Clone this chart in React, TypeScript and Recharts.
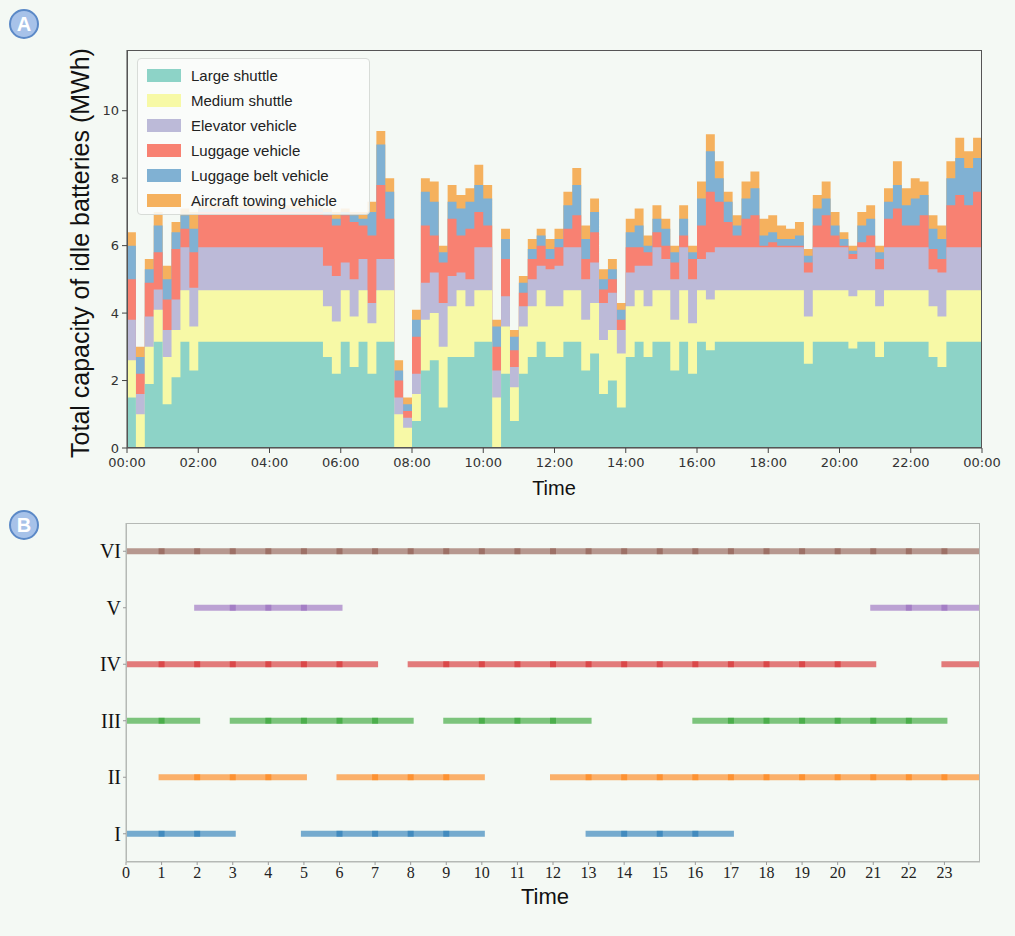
import React from 'react'
import { AreaChart, Area, LineChart, Line, XAxis, YAxis } from 'recharts'

// cumulative top edge of each band, 15 min steps (00:00 .. 24:00)
const LARGE_SHUTTLE = [
  1.5, 0.0, 1.9, 3.15, 1.3, 2.1, 3.15, 2.3,
  3.15, 3.15, 3.15, 3.15, 3.15, 3.15, 3.15, 3.15, 3.15, 3.15, 3.15, 3.15,
  3.15, 3.15, 2.7, 2.2, 3.15, 2.4, 3.15, 2.2, 3.15, 3.15, 0.0, 0.0,
  0.8, 2.3, 2.6, 1.2, 2.7, 2.7, 2.7, 3.15, 3.15, 0.0, 2.2, 0.8,
  2.2, 2.7, 3.15, 2.7, 2.7, 3.15, 3.15, 2.3, 2.8, 1.6, 2.0, 1.2,
  2.7, 3.15, 2.7, 3.15, 3.15, 2.3, 3.15, 2.2, 3.15, 2.9, 3.15, 3.15,
  3.15, 3.15, 3.15, 3.15, 3.15, 3.15, 3.15, 3.15, 2.5, 3.15, 3.15, 3.15,
  3.15, 2.95, 3.15, 3.15, 2.7, 3.15, 3.15, 3.15, 3.15, 3.15, 2.7, 2.4,
  3.15, 3.15, 3.15, 3.15, 3.15,
]
const MEDIUM_SHUTTLE = [
  2.6, 1.0, 3.0, 4.1, 2.7, 3.5, 4.68, 3.6,
  4.68, 4.68, 4.68, 4.68, 4.68, 4.68, 4.68, 4.68, 4.68, 4.68, 4.68, 4.68,
  4.68, 4.68, 4.2, 3.75, 4.68, 3.9, 4.68, 3.7, 4.68, 4.68, 1.0, 0.6,
  1.6, 3.8, 4.0, 3.0, 4.2, 4.68, 4.2, 4.68, 4.68, 1.5, 3.6, 1.8,
  3.6, 4.2, 4.68, 4.2, 4.2, 4.68, 4.68, 3.8, 4.3, 3.2, 3.5, 2.8,
  4.2, 4.68, 4.2, 4.68, 4.68, 3.8, 4.68, 3.7, 4.68, 4.4, 4.68, 4.68,
  4.68, 4.68, 4.68, 4.68, 4.68, 4.68, 4.68, 4.68, 3.9, 4.68, 4.68, 4.68,
  4.68, 4.5, 4.68, 4.68, 4.2, 4.68, 4.68, 4.68, 4.68, 4.68, 4.2, 3.9,
  4.68, 4.68, 4.68, 4.68, 4.68,
]
const ELEVATOR = [
  3.8, 1.6, 3.9, 4.7, 3.5, 4.4, 5.95, 4.75,
  5.95, 5.95, 5.95, 5.95, 5.95, 5.95, 5.95, 5.95, 5.95, 5.95, 5.95, 5.95,
  5.95, 5.95, 5.4, 5.1, 5.5, 5.0, 5.6, 4.3, 5.6, 5.6, 1.5, 0.9,
  2.2, 4.9, 5.2, 4.3, 5.1, 5.2, 5.0, 5.95, 5.95, 2.3, 4.5, 2.4,
  4.2, 5.0, 5.4, 5.3, 5.4, 5.95, 5.95, 5.0, 5.5, 4.3, 4.6, 3.5,
  5.2, 5.4, 5.4, 5.95, 5.6, 5.0, 5.95, 5.0, 5.6, 5.8, 5.95, 5.95,
  5.95, 5.95, 5.95, 5.95, 5.95, 5.95, 5.95, 5.95, 5.2, 5.95, 5.95, 5.95,
  5.95, 5.6, 5.95, 5.95, 5.3, 5.95, 5.95, 5.95, 5.95, 5.95, 5.3, 5.2,
  5.95, 5.95, 5.95, 5.95, 5.95,
]
const LUGGAGE = [
  5.0, 2.2, 4.9, 5.8, 4.4, 5.9, 6.5, 5.8,
  7.0, 7.0, 7.0, 7.0, 7.0, 7.0, 7.0, 7.0, 7.0, 7.0, 7.0, 7.0,
  7.0, 7.0, 6.9, 6.6, 6.9, 6.7, 6.6, 6.3, 7.8, 6.8, 2.0, 1.1,
  3.3, 6.6, 6.3, 5.5, 6.8, 6.3, 6.5, 7.0, 6.6, 3.0, 5.6, 2.9,
  4.6, 5.6, 6.0, 5.6, 5.95, 6.5, 6.9, 5.6, 6.4, 4.7, 5.0, 3.8,
  5.95, 5.95, 5.8, 6.4, 6.0, 5.5, 6.3, 5.6, 6.6, 7.6, 7.3, 6.7,
  6.3, 6.8, 6.9, 6.0, 6.1, 6.0, 6.0, 6.0, 5.5, 6.6, 6.9, 6.3,
  6.0, 5.75, 6.1, 6.3, 5.6, 6.8, 7.1, 6.6, 6.6, 6.9, 5.9, 5.6,
  7.2, 7.5, 7.2, 7.6, 7.6,
]
const LUGGAGE_BELT = [
  6.0, 2.7, 5.3, 6.6, 5.0, 6.4, 6.9, 6.5,
  7.1, 7.1, 7.1, 7.1, 7.1, 7.1, 7.1, 7.1, 7.1, 7.1, 7.1, 7.1,
  7.1, 7.1, 7.0, 6.8, 7.0, 6.9, 6.8, 7.0, 9.0, 7.6, 2.3, 1.3,
  3.8, 7.6, 7.3, 5.8, 7.3, 7.1, 7.3, 7.8, 7.4, 3.6, 6.2, 3.3,
  4.9, 5.9, 6.3, 5.9, 6.2, 7.2, 7.8, 6.2, 7.0, 5.0, 5.3, 4.1,
  6.4, 6.6, 6.0, 6.8, 6.5, 5.8, 6.8, 5.8, 7.4, 8.8, 8.0, 7.3,
  6.6, 7.4, 7.7, 6.3, 6.4, 6.2, 6.2, 6.3, 5.7, 7.1, 7.4, 6.6,
  6.2, 5.85, 6.6, 6.8, 5.8, 7.3, 7.8, 7.2, 7.4, 7.5, 6.5, 6.2,
  8.0, 8.6, 8.3, 8.6, 8.6,
]
const TOWING = [
  6.4, 3.0, 5.6, 7.0, 5.4, 6.7, 7.1, 7.0,
  7.2, 7.2, 7.2, 7.2, 7.2, 7.2, 7.2, 7.2, 7.2, 7.2, 7.2, 7.2,
  7.2, 7.2, 7.1, 7.0, 7.1, 7.0, 7.0, 7.3, 9.4, 8.0, 2.6, 1.5,
  4.1, 8.0, 7.9, 6.0, 7.8, 7.5, 7.7, 8.4, 7.8, 3.8, 6.5, 3.5,
  5.1, 6.2, 6.5, 6.2, 6.5, 7.6, 8.3, 6.6, 7.4, 5.3, 5.6, 4.3,
  6.8, 7.1, 6.3, 7.2, 6.8, 6.0, 7.2, 6.0, 7.9, 9.3, 8.5, 7.6,
  6.9, 7.9, 8.2, 6.8, 6.9, 6.6, 6.5, 6.7, 5.9, 7.5, 7.9, 7.0,
  6.4, 6.0, 7.0, 7.2, 6.0, 7.7, 8.5, 7.7, 8.0, 7.9, 6.9, 6.6,
  8.5, 9.2, 8.8, 9.2, 9.2,
]

const SERIES = [
  { key: 'ls', name: 'Large shuttle', color: '#8dd3c7', values: LARGE_SHUTTLE },
  { key: 'ms', name: 'Medium shuttle', color: '#f7f9a6', values: MEDIUM_SHUTTLE },
  { key: 'el', name: 'Elevator vehicle', color: '#bcbad8', values: ELEVATOR },
  { key: 'lu', name: 'Luggage vehicle', color: '#f88172', values: LUGGAGE },
  { key: 'be', name: 'Luggage belt vehicle', color: '#80b1d3', values: LUGGAGE_BELT },
  { key: 'tw', name: 'Aircraft towing vehicle', color: '#f5b15e', values: TOWING },
]

const capacityData = LARGE_SHUTTLE.map((_, i) => {
  const row: Record<string, number> = { t: i / 4 }
  SERIES.forEach((s) => (row[s.key] = s.values[i]))
  return row
})

// hours (start of each 1h slot) in which each station is working
const STATIONS = [
  { level: 1, label: 'I', color: '#1f77b4', hours: [0, 1, 2, 5, 6, 7, 8, 9, 13, 14, 15, 16] },
  { level: 2, label: 'II', color: '#ff7f0e', hours: [1, 2, 3, 4, 6, 7, 8, 9, 12, 13, 14, 15, 16, 17, 18, 19, 20, 21, 22, 23] },
  { level: 3, label: 'III', color: '#2ca02c', hours: [0, 1, 3, 4, 5, 6, 7, 9, 10, 11, 12, 16, 17, 18, 19, 20, 21, 22] },
  { level: 4, label: 'IV', color: '#d62728', hours: [0, 1, 2, 3, 4, 5, 6, 8, 9, 10, 11, 12, 13, 14, 15, 16, 17, 18, 19, 20, 23] },
  { level: 5, label: 'V', color: '#9467bd', hours: [2, 3, 4, 5, 21, 22, 23] },
  { level: 6, label: 'VI', color: '#8c564b', hours: [0, 1, 2, 3, 4, 5, 6, 7, 8, 9, 10, 11, 12, 13, 14, 15, 16, 17, 18, 19, 20, 21, 22, 23] },
]
const HOUR_TICKS = [0, 1, 2, 3, 4, 5, 6, 7, 8, 9, 10, 11, 12, 13, 14, 15, 16, 17, 18, 19, 20, 21, 22, 23]
const TIME_TICKS = [0, 2, 4, 6, 8, 10, 12, 14, 16, 18, 20, 22, 24]
const CAP_TICKS = [0, 2, 4, 6, 8, 10]

function stationPoints(hours: number[], level: number) {
  const pts: { t: number; v: number | null; joint?: boolean }[] = []
  let i = 0
  while (i < hours.length) {
    let j = i
    while (j + 1 < hours.length && hours[j + 1] === hours[j] + 1) j++
    pts.push({ t: hours[i], v: level })
    for (let h = hours[i] + 1; h <= hours[j] + 1; h++) {
      pts.push({ t: h, v: level, joint: h <= hours[j] })
    }
    if (j + 1 < hours.length) pts.push({ t: hours[j] + 1.5, v: null })
    i = j + 1
  }
  return pts
}

const ROMAN = ['', 'I', 'II', 'III', 'IV', 'V', 'VI']
const SANS = '"Liberation Sans", Arial, sans-serif'
const DJ = '"DejaVu Sans", sans-serif'
const SERIF = '"Liberation Serif", "Times New Roman", serif'

function Badge({ letter, top }: { letter: string; top: number }) {
  return (
    <div
      style={{
        position: 'absolute', left: 9, top, width: 30, height: 30, borderRadius: '50%',
        background: '#a7c2e9', border: '2px solid #5b89c7', boxSizing: 'border-box',
        color: '#fff', fontFamily: SANS, fontWeight: 700, fontSize: 20,
        display: 'flex', alignItems: 'center', justifyContent: 'center',
      }}
    >
      {letter}
    </div>
  )
}

export default function App() {
  return (
    <div style={{ position: 'absolute', left: 0, top: 0, width: 1015, height: 936, background: '#f4f9f4', overflow: 'hidden' }}>
      <Badge letter="A" top={9} />
      <Badge letter="B" top={510} />

      {/* A: idle battery capacity */}
      <div style={{ position: 'absolute', left: 0, top: 0 }}>
        <AreaChart width={1015} height={500} data={capacityData} margin={{ top: 50, right: 33, bottom: 22, left: 67 }}>
          <XAxis
            type="number"
            dataKey="t"
            domain={[0, 24]}
            ticks={TIME_TICKS}
            allowDataOverflow
            height={30}
            tickFormatter={(v: number) => `${String(v % 24).padStart(2, '0')}:00`}
            tick={{ fontSize: 13, fill: '#333', fontFamily: DJ }}
            tickSize={5}
            tickMargin={5}
            axisLine={{ stroke: '#444' }}
            tickLine={{ stroke: '#444' }}
          />
          <YAxis
            type="number"
            domain={[0, 11.8]}
            ticks={CAP_TICKS}
            allowDataOverflow
            width={60}
            tick={{ fontSize: 13, fill: '#333', fontFamily: DJ }}
            tickSize={5}
            tickMargin={3}
            axisLine={{ stroke: '#444' }}
            tickLine={{ stroke: '#444' }}
          />
          {[...SERIES].reverse().map((s) => (
            <Area
              key={s.key}
              type="stepAfter"
              dataKey={s.key}
              name={s.name}
              baseValue={0}
              fill={s.color}
              fillOpacity={1}
              stroke="none"
              dot={false}
              activeDot={false}
              isAnimationActive={false}
            />
          ))}
        </AreaChart>
      </div>
      <div style={{ position: 'absolute', left: 127, top: 50, width: 855, height: 398, border: '1.5px solid #555', boxSizing: 'border-box', pointerEvents: 'none' }} />
      <div
        style={{
          position: 'absolute', left: 137, top: 58, width: 233, height: 157,
          background: 'rgba(250,252,250,0.88)', border: '1px solid #d8dcd8', borderRadius: 4, boxSizing: 'border-box',
        }}
      >
        {SERIES.map((s, i) => (
          <div key={s.key} style={{ position: 'absolute', left: 9, top: 9 + i * 25, height: 14, display: 'flex', alignItems: 'center' }}>
            <div style={{ width: 34, height: 13, background: s.color }} />
            <span style={{ marginLeft: 10, fontFamily: SANS, fontSize: 15, color: '#222', whiteSpace: 'nowrap' }}>{s.name}</span>
          </div>
        ))}
      </div>
      <div
        style={{
          position: 'absolute', left: 80, top: 253, transform: 'translate(-50%, -50%) rotate(-90deg)',
          fontFamily: SANS, fontSize: 25, color: '#111', whiteSpace: 'nowrap',
        }}
      >
        Total capacity of idle batteries (MWh)
      </div>
      <div style={{ position: 'absolute', left: 554, top: 488, transform: 'translate(-50%, -50%)', fontFamily: SANS, fontSize: 20, color: '#111' }}>
        Time
      </div>

      {/* B: station working schedule */}
      <div style={{ position: 'absolute', left: 0, top: 500 }}>
        <LineChart width={1015} height={436} margin={{ top: 23, right: 35, bottom: 44, left: 76 }}>
          <XAxis
            type="number"
            dataKey="t"
            domain={[0, 24]}
            ticks={HOUR_TICKS}
            allowDataOverflow
            height={30}
            tick={{ fontSize: 16, fill: '#222', fontFamily: SERIF }}
            tickSize={3}
            axisLine={{ stroke: '#b5b9b5' }}
            tickLine={{ stroke: '#999' }}
          />
          <YAxis
            type="number"
            domain={[0.5, 6.5]}
            ticks={[1, 2, 3, 4, 5, 6]}
            allowDataOverflow
            width={50}
            tickFormatter={(v: number) => ROMAN[v]}
            tick={{ fontSize: 20, fill: '#111', fontFamily: SERIF }}
            tickSize={3}
            axisLine={{ stroke: '#b5b9b5' }}
            tickLine={{ stroke: '#999' }}
          />
          {STATIONS.map((st) => (
            <Line
              key={st.label}
              data={stationPoints(st.hours, st.level)}
              dataKey="v"
              type="linear"
              stroke={st.color}
              strokeOpacity={0.6}
              strokeWidth={6}
              strokeLinecap="square"
              connectNulls={false}
              activeDot={false}
              isAnimationActive={false}
              dot={(p: any) => {
                if (!p.payload || !p.payload.joint || p.cy == null) return <g key={`${st.label}-${p.index}`} />
                return (
                  <rect key={`${st.label}-${p.index}`} x={p.cx - 3} y={p.cy - 3} width={6} height={6} fill={st.color} fillOpacity={0.6} />
                )
              }}
            />
          ))}
        </LineChart>
      </div>
      <div style={{ position: 'absolute', left: 126, top: 523, width: 854, height: 339, border: '1px solid #b5b9b5', boxSizing: 'border-box', pointerEvents: 'none' }} />
      <div style={{ position: 'absolute', left: 545, top: 897, transform: 'translate(-50%, -50%)', fontFamily: SANS, fontSize: 22, color: '#111' }}>
        Time
      </div>
    </div>
  )
}
